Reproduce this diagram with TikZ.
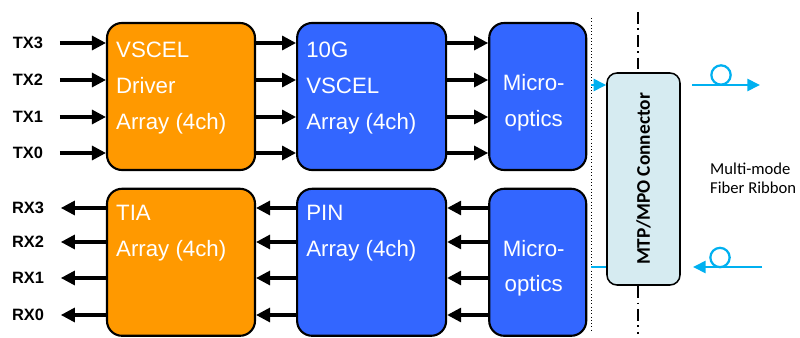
\documentclass[tikz,border=0pt]{standalone}
\usepackage{fontspec}
\setmainfont{Liberation Sans}
\newfontfamily\calibfont{Carlito}
\usepackage{tikz}
\usetikzlibrary{arrows.meta, positioning, calc}
\definecolor{drvorange}{RGB}{255, 153, 0}
\definecolor{optblue}{RGB}{51, 102, 255}
\definecolor{connfill}{RGB}{214, 235, 241}
\definecolor{fibercyan}{RGB}{0, 176, 240}

\begin{document}
\begin{tikzpicture}[
    x=0.03cm, y=-0.03cm,
    sigarrow/.style={-{Triangle[length=0.42cm, width=0.42cm]}, line width=2.6pt, draw=black},
    fiberarrow/.style={-{Triangle[length=0.38cm, width=0.36cm]}, line width=2.3pt, draw=fibercyan},
    fiberline/.style={-, line width=2.3pt, draw=fibercyan},
    fiberloop/.style={line width=1.9pt, draw=fibercyan, fill=white},
    arraybox/.style={rectangle, rounded corners=0.45cm, draw=black, line width=1.8pt,
                     minimum height=4.41cm, inner sep=0pt},
    drvbox/.style={arraybox, fill=drvorange, minimum width=4.44cm},
    optbox/.style={arraybox, fill=optblue, minimum width=4.47cm},
    microbox/.style={arraybox, fill=optblue, minimum width=2.91cm},
    boxtext/.style={anchor=north west, align=left, text=white, inner sep=0pt,
                    font=\fontsize{19}{30.5}\selectfont},
    microtext/.style={align=center, text=white, inner sep=0pt,
                      font=\fontsize{19}{30.5}\selectfont},
    chlabel/.style={inner sep=0pt, font=\fontsize{14}{16}\selectfont\bfseries},
    connbox/.style={rectangle, rounded corners=0.3cm, draw=black, line width=1.3pt,
                    fill=connfill, minimum width=2.19cm, minimum height=6.36cm},
    conntext/.style={rotate=90, font=\calibfont\fontsize{16.5}{19}\selectfont\bfseries},
    fibertext/.style={anchor=west, align=left, inner sep=0pt,
                      font=\calibfont\fontsize{14.2}{16.5}\selectfont},
]
\useasboundingbox (0,0) rectangle (800,338);

% ============================================================
% TRANSMIT ROW
% ============================================================
\node[drvbox] (vdrv) at (181,96.5) {};
\node[optbox, right=1.2cm of vdrv] (vcsel) {};
\node[microbox, right=1.23cm of vcsel] (motx) {};

\node[boxtext] at ([shift={(10,20)}]vdrv.north west) {VSCEL\\Driver\\Array (4ch)};
\node[boxtext] at ([shift={(10,20)}]vcsel.north west) {10G\\VSCEL\\Array (4ch)};
\node[microtext] at ([shift={(-4,6)}]motx.center) {Micro-\\optics};

% ============================================================
% RECEIVE ROW
% ============================================================
\node[drvbox, below=0.5cm of vdrv] (tia) {};
\node[optbox, below=0.5cm of vcsel] (pin) {};
\node[microbox, below=0.5cm of motx] (morx) {};

\node[boxtext] at ([shift={(10,17)}]tia.north west) {TIA\\Array (4ch)};
\node[boxtext] at ([shift={(10,17)}]pin.north west) {PIN\\Array (4ch)};
\node[microtext] at ([shift={(-4,6)}]morx.center) {Micro-\\optics};

% ============================================================
% CHANNEL ARROWS
% ============================================================
\foreach \ch/\y in {3/43, 2/80, 1/117, 0/153} {
    \node[chlabel] (tx\ch) at (28,\y) {TX\ch};
    \draw[sigarrow, shorten <=0.5cm] (tx\ch.east) -- (vdrv.west |- tx\ch);
    \draw[sigarrow] (vdrv.east |- tx\ch) -- (vcsel.west |- tx\ch);
    \draw[sigarrow] (vcsel.east |- tx\ch) -- (motx.west |- tx\ch);
}
\foreach \ch/\y in {3/208, 2/242, 1/278, 0/315} {
    \node[chlabel] (rx\ch) at (28,\y) {RX\ch};
    \draw[sigarrow, shorten >=0.5cm] (tia.west |- rx\ch) -- (rx\ch.east);
    \draw[sigarrow] (pin.west |- rx\ch) -- (tia.east |- rx\ch);
    \draw[sigarrow] (morx.west |- rx\ch) -- (pin.east |- rx\ch);
}

% ============================================================
% CONNECTOR (dotted edge, axis, MTP/MPO)
% ============================================================
\coordinate (edgeTop) at (591,18);
\coordinate (edgeBot) at (591,330);
\draw[line width=0.8pt, dotted] (edgeTop) -- (edgeBot);

\coordinate (axisTop) at (638,12);
\coordinate (axisBot) at (638,334);
\draw[line width=1.3pt, dash pattern=on 10pt off 4pt on 1.5pt off 4pt] (axisTop) -- (axisBot);

\node[connbox] (conn) at (643.5,179) {};
\node[conntext] at (conn.center) {MTP/MPO Connector};

\draw[fiberarrow] (edgeTop |- 0,85) -- (conn.west |- 0,85);
\draw[fiberline] (conn.west |- 0,267) -- (edgeTop |- 0,267);

% ============================================================
% FIBER RIBBON
% ============================================================
\coordinate (txFibA) at (692,85);
\coordinate (txFibB) at (760,85);
\coordinate (rxFibA) at (762,267);
\coordinate (rxFibB) at (693,267);
\draw[fiberarrow] (txFibA) -- (txFibB);
\draw[fiberarrow] (rxFibA) -- (rxFibB);
\draw[fiberloop] (721,75) circle[radius=0.29cm];
\draw[fiberloop] (720,257.5) circle[radius=0.29cm];

\node[fibertext] (ribbon) at (710,178) {Multi-mode\\Fiber Ribbon};

\end{tikzpicture}
\end{document}
